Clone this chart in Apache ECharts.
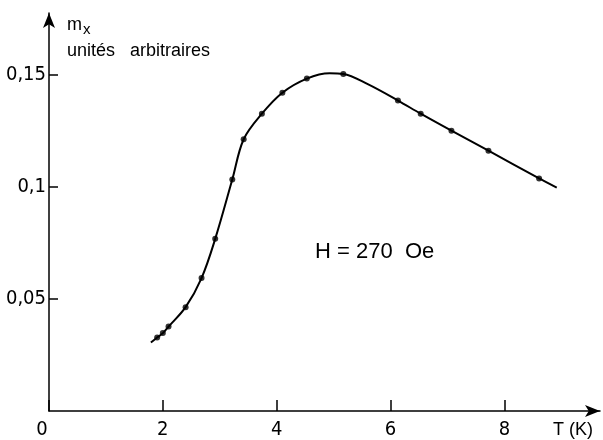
<!DOCTYPE html>
<html>
<head>
<meta charset="utf-8">
<script src="https://cdn.jsdelivr.net/npm/echarts@6/dist/echarts.min.js"></script>
<style>
html,body{margin:0;padding:0;background:#fff;}
#c{width:603px;height:440px;}
</style>
</head>
<body>
<div id="c"></div>
<script>
// Measured points (T in K, m_x in arbitrary units)
const tempK = [1.90, 2.00, 2.10, 2.40, 2.68, 2.92, 3.22, 3.42, 3.74, 4.10, 4.53, 5.17, 6.13, 6.53, 7.07, 7.72, 8.61];
const mx    = [0.0328, 0.0348, 0.0377, 0.0464, 0.0594, 0.0769, 0.1034, 0.1214, 0.1328, 0.1422, 0.1485, 0.1506, 0.1387, 0.1328, 0.1252, 0.1163, 0.1039];
// Hand-drawn fit curve through the points
const curveT  = [1.79, 1.90, 2.00, 2.10, 2.40, 2.68, 2.92, 3.22, 3.42, 3.74, 4.10, 4.53, 4.93, 5.17, 5.60, 6.13, 6.53, 7.07, 7.72, 8.61, 8.92];
const curveMx = [0.0306, 0.0328, 0.0348, 0.0377, 0.0464, 0.0594, 0.0769, 0.1034, 0.1214, 0.1328, 0.1422, 0.1485, 0.1509, 0.1506, 0.1460, 0.1387, 0.1328, 0.1252, 0.1163, 0.1039, 0.0998];
// Tick labels
const xTickValues = [0, 2, 4, 6, 8];
const xTickLabels = ['0', '2', '4', '6', '8'];
const yTickValues = [0.05, 0.1, 0.15];
const yTickLabels = ['0,05', '0,1', '0,15'];

const NARROW = '"Liberation Sans Narrow", "DejaVu Sans Condensed", sans-serif';
const FONT = '"Liberation Sans", Arial, sans-serif';
const chart = echarts.init(document.getElementById('c'), null, {renderer: 'canvas'});

chart.setOption({
  backgroundColor: '#fff',
  animation: false,
  grid: {left: 49, right: 3, top: 13, bottom: 24, containLabel: false},
  xAxis: {
    type: 'value', min: 0, max: 9.68, interval: 2,
    splitLine: {show: false},
    axisLine: {show: true, lineStyle: {color: '#000', width: 1.5}, symbol: ['none', 'arrow'], symbolSize: [9, 15]},
    axisTick: {show: true, inside: true, length: 11, lineStyle: {color: '#000', width: 1.5}},
    axisLabel: {
      show: true, margin: 9, color: '#000', fontFamily: NARROW, fontSize: 20,
      showMaxLabel: false,
      formatter: function (v) {
        const i = xTickValues.findIndex(t => Math.abs(t - v) < 1e-9);
        if (i < 0) return '';
        return v === 0 ? '{z|' + xTickLabels[i] + '}' : xTickLabels[i];
      },
      rich: {z: {fontFamily: NARROW, fontSize: 20, color: '#000', padding: [0, 14, 0, 0]}}
    }
  },
  yAxis: {
    type: 'value', min: 0, max: 0.1778, interval: 0.05,
    splitLine: {show: false},
    axisLine: {show: true, lineStyle: {color: '#000', width: 1.5}, symbol: ['none', 'arrow'], symbolSize: [9, 15]},
    axisTick: {show: true, inside: true, length: 9, lineStyle: {color: '#000', width: 1.5}},
    axisLabel: {
      show: true, margin: 3, color: '#000', fontFamily: NARROW, fontSize: 20,
      showMinLabel: false, showMaxLabel: false,
      formatter: function (v) {
        const i = yTickValues.findIndex(t => Math.abs(t - v) < 1e-9);
        return i < 0 ? '' : yTickLabels[i];
      }
    }
  },
  series: [
    {
      type: 'line', smooth: 0.35, symbol: 'none',
      data: curveT.map((t, i) => [t, curveMx[i]]),
      lineStyle: {color: '#000', width: 2}
    },
    {
      type: 'scatter', symbol: 'circle', symbolSize: 6,
      data: tempK.map((t, i) => [t, mx[i]]),
      itemStyle: {color: '#000'}
    }
  ],
  graphic: [
    {type: 'text', left: 67, top: 16, style: {
      text: 'm{s|x}', fontFamily: FONT, fontSize: 18, fill: '#000',
      rich: {s: {fontFamily: FONT, fontSize: 15, fill: '#000', padding: [9, 0, 0, 1]}}
    }},
    {type: 'text', left: 67, top: 42, style: {text: 'unités   arbitraires', fontFamily: FONT, fontSize: 18, fill: '#000'}},
    {type: 'text', left: 315, top: 241, style: {text: 'H = 270  Oe', fontFamily: FONT, fontSize: 22, fill: '#000'}},
    {type: 'text', left: 553, top: 421, style: {text: 'T (K)', fontFamily: FONT, fontSize: 18, fill: '#000'}}
  ]
});
</script>
</body>
</html>
